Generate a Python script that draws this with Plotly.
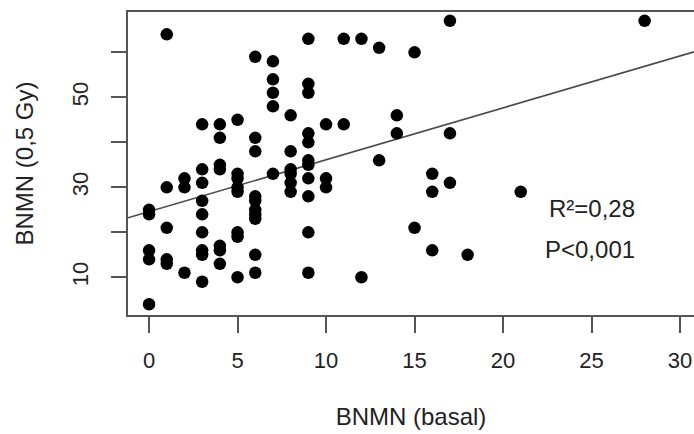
import plotly.graph_objects as go

# BNMN frequencies per donor: basal vs. after 0.5 Gy irradiation
basal = (
    [0] * 5 + [1] * 5 + [2] * 3 + [3] * 9 + [4] * 7 + [5] * 8 + [6] * 10
    + [7] * 5 + [8] * 6 + [9] * 11 + [10] * 3 + [11] * 2 + [12] * 2
    + [13] * 2 + [14] * 2 + [15] * 2 + [16] * 3 + [17] * 3 + [18, 21, 28]
)
gy05 = [
    25, 24, 16, 14, 4,
    64, 30, 21, 14, 13,
    32, 30, 11,
    44, 34, 31, 27, 24, 20, 16, 15, 9,
    44, 41, 35, 34, 17, 16, 13,
    45, 33, 32, 30, 29, 20, 19, 10,
    59, 41, 38, 28, 27, 25, 24, 23, 15, 11,
    58, 54, 51, 48, 33,
    46, 38, 34, 33, 31, 29,
    63, 53, 51, 42, 40, 36, 35, 32, 28, 20, 11,
    44, 32, 30,
    63, 44,
    63, 10,
    61, 36,
    46, 42,
    60, 21,
    33, 29, 16,
    67, 42, 31,
    15, 29, 67,
]

# Linear regression reported for the data
fit_intercept = 24.6
fit_slope = 1.153
r2_label = "R²=0,28"
p_label = "P<0,001"

x_tick_vals = [0, 5, 10, 15, 20, 25, 30]
y_tick_vals = [10, 20, 30, 40, 50, 60]
y_tick_text = ["10", "", "30", "", "50", ""]

x_range = [-1.19, 30.79]
y_range = [1.62, 68.96]

FONT = "Liberation Sans, Arial, Helvetica, sans-serif"
TEXT = "#222222"
AXIS = "#555555"

fig = go.Figure()

fit_x = x_range
fit_y = [fit_intercept + fit_slope * v for v in fit_x]
fig.add_trace(go.Scatter(
    x=fit_x, y=fit_y, mode="lines",
    line=dict(color="#4a4a4a", width=1.6),
    hoverinfo="skip", showlegend=False,
))

fig.add_trace(go.Scatter(
    x=basal, y=gy05, mode="markers",
    marker=dict(color="black", size=12.5, line=dict(width=0)),
    showlegend=False,
))

fig.add_annotation(x=25.0, y=25.2, xref="x", yref="y", text=r2_label,
                   showarrow=False, font=dict(size=24, color=TEXT, family=FONT))
fig.add_annotation(x=24.9, y=16.1, xref="x", yref="y", text=p_label,
                   showarrow=False, font=dict(size=24, color=TEXT, family=FONT))

fig.update_layout(
    width=694, height=434,
    margin=dict(l=128, r=0, t=12, b=119),
    paper_bgcolor="white", plot_bgcolor="white",
    font=dict(family=FONT, size=22, color=TEXT),
    xaxis=dict(
        range=x_range, tickvals=x_tick_vals,
        showgrid=False, zeroline=False,
        showline=True, linecolor=AXIS, linewidth=1.8, mirror=True,
        ticks="outside", ticklen=16, tickwidth=1.6, tickcolor=AXIS,
        ticklabelstandoff=9,
        tickfont=dict(size=22, color=TEXT),
        title=dict(text="BNMN (basal)", standoff=36,
                   font=dict(size=24, color=TEXT)),
    ),
    yaxis=dict(
        range=y_range, tickvals=y_tick_vals, ticktext=y_tick_text,
        showgrid=False, zeroline=False,
        showline=True, linecolor=AXIS, linewidth=1.8, mirror=False,
        ticks="outside", ticklen=15, tickwidth=1.6, tickcolor=AXIS,
        tickangle=-90, ticklabelstandoff=14,
        tickfont=dict(size=22, color=TEXT),
        title=dict(text="BNMN (0,5 Gy)", standoff=28,
                   font=dict(size=24, color=TEXT)),
    ),
)

fig.write_html("out.html")
